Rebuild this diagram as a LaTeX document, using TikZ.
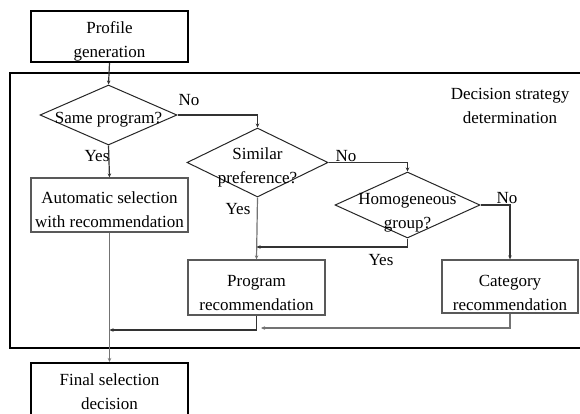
\documentclass[tikz,border=0pt]{standalone}
\usepackage{fontspec}
\setmainfont{Liberation Serif}
\usetikzlibrary{shapes.geometric,arrows.meta}
\begin{document}
\begin{tikzpicture}[x=1pt,y=-1pt,
  txt/.style={font=\fontsize{17}{24}\selectfont, align=center, inner sep=0pt},
  thickbox/.style={draw=black, line width=2pt, inner sep=0pt},
  graybox/.style={draw=black!65, line width=1.3pt, inner sep=0pt},
  dia/.style={draw=black!85, line width=1pt, diamond, inner sep=0pt},
  conn/.style={line width=1.2pt, draw=black!80, -{Stealth[length=4pt,width=3.5pt]}},
  gconn/.style={line width=1.2pt, draw=black!55, -{Stealth[length=4pt,width=3.5pt]}},
  lbl/.style={font=\fontsize{17}{20}\selectfont, inner sep=0pt}]
\useasboundingbox (0,0) rectangle (580,413);
\clip (0,0) rectangle (580,413);
\fill[white] (0,0) rectangle (580,413);
% outer frame
\draw[line width=1.6pt] (600,73) -- (10,73) -- (10,348) -- (600,348);
\node[txt] (title) at (510,106) {Decision strategy\\determination};
% boxes
\node[thickbox, minimum width=157pt, minimum height=51pt] (prof) at (109.5,36.5) {};
\node[txt] (proft) at (109.5,41) {Profile\\generation};
\node[graybox, minimum width=157pt, minimum height=54pt] (auto) at (109.5,205) {};
\node[txt] (autot) at (109.5,210) {Automatic selection\\with recommendation};
\node[graybox, minimum width=137pt, minimum height=55pt] (prog) at (256.5,287.5) {};
\node[txt] (progt) at (256.5,293.5) {Program\\recommendation};
\node[graybox, minimum width=136pt, minimum height=53pt] (cat) at (510,286.5) {};
\node[txt] (catt) at (510,293) {Category\\recommendation};
\node[thickbox, minimum width=157pt, minimum height=56pt] (final) at (109.5,391) {};
\node[txt] (finalt) at (109.5,391.5) {Final selection\\decision};
% diamonds
\node[dia, minimum width=137pt, minimum height=60pt] (same) at (108.5,115) {};
\node[txt] (samet) at (108.5,120) {Same program?};
\node[dia, minimum width=141pt, minimum height=69pt] (sim) at (257.5,162.5) {};
\node[txt] (simt) at (257.5,167.5) {Similar\\preference?};
\node[dia, minimum width=145pt, minimum height=66pt] (hom) at (407.5,205) {};
\node[txt] (homt) at (407.5,212.5) {Homogeneous\\group?};
% helper coordinates
\coordinate (c1) at (257.5,115);
\coordinate (c2) at (407.5,162.5);
\coordinate (c3) at (510,205);
\coordinate (c4) at (407.5,247);
\coordinate (c5) at (256.5,247);
\coordinate (c6) at (256.5,330);
\coordinate (c7) at (109.5,330);
\coordinate (c8) at (510,328);
\coordinate (c9) at (261,328);
% connectors
\draw[conn] (prof.south) -- (same.north);
\draw[conn] (same.east) -- (c1) -- (sim.north);
\draw[conn] (same.south) -- (auto.north);
\draw[conn] (sim.east) -- (c2) -- (hom.north);
\draw[gconn] (sim.south) -- (prog.north);
\draw[conn] (hom.south) -- (c4) -- (c5);
\draw[conn] (hom.east) -- (c3) -- (cat.north);
\draw[conn] (prog.south) -- (c6) -- (c7);
\draw[gconn] (cat.south) -- (c8) -- (c9);
\draw[gconn] (auto.south) -- (final.north);
% labels
\node[lbl] (no1) at (189,100) {No};
\node[lbl] (yes1) at (97,156) {Yes};
\node[lbl] (no2) at (346,156) {No};
\node[lbl] (yes2) at (238,209) {Yes};
\node[lbl] (no3) at (507,198) {No};
\node[lbl] (yes3) at (381,260) {Yes};
\end{tikzpicture}
\end{document}
